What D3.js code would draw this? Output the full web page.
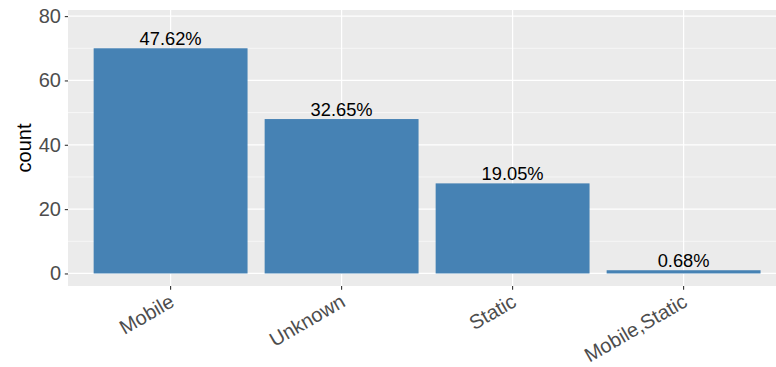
<!DOCTYPE html>
<html><head><meta charset="utf-8">
<script src="https://cdn.jsdelivr.net/npm/d3@7"></script>
<style>body{margin:0;background:#fff}svg{display:block}</style>
</head><body>
<script>
const categories = ["Mobile", "Unknown", "Static", "Mobile,Static"];
const counts = [70, 48, 28, 1];
const pctLabels = ["47.62%", "32.65%", "19.05%", "0.68%"];
const yTicks = [0, 20, 40, 60, 80];
const yMinor = [10, 30, 50, 70];

const W = 776, H = 367;
const panel = {left: 68, top: 10, right: 786.2, bottom: 286};
const svg = d3.select("body").append("svg").attr("width", W).attr("height", H);
const font = "'Liberation Sans', Arial, sans-serif";

const x = d3.scaleBand().domain(categories).range([panel.left, panel.right])
  .paddingInner(0.1).paddingOuter(0.15);
const y = d3.scaleLinear().domain([-3.9, 81.9]).range([panel.bottom, panel.top]);

svg.append("rect").attr("x", panel.left).attr("y", panel.top)
  .attr("width", panel.right - panel.left).attr("height", panel.bottom - panel.top)
  .attr("fill", "#EBEBEB");

const g = svg.append("g");
g.selectAll(".minor").data(yMinor).join("line")
  .attr("x1", panel.left).attr("x2", panel.right)
  .attr("y1", d => y(d)).attr("y2", d => y(d))
  .attr("stroke", "#fff").attr("stroke-width", 0.6);
g.selectAll(".major").data(yTicks).join("line")
  .attr("x1", panel.left).attr("x2", panel.right)
  .attr("y1", d => y(d)).attr("y2", d => y(d))
  .attr("stroke", "#fff").attr("stroke-width", 1.2);
g.selectAll(".vmajor").data(categories).join("line")
  .attr("y1", panel.top).attr("y2", panel.bottom)
  .attr("x1", d => x(d) + x.bandwidth()/2).attr("x2", d => x(d) + x.bandwidth()/2)
  .attr("stroke", "#fff").attr("stroke-width", 1.2);

svg.selectAll(".bar").data(categories).join("rect")
  .attr("x", d => x(d)).attr("width", x.bandwidth())
  .attr("y", (d, i) => y(counts[i])).attr("height", (d, i) => y(0) - y(counts[i]))
  .attr("fill", "#4682B4");

svg.selectAll(".lbl").data(categories).join("text")
  .attr("x", d => x(d) + x.bandwidth()/2)
  .attr("y", (d, i) => y(counts[i]) - 3.5)
  .attr("text-anchor", "middle")
  .attr("font-family", font).attr("font-size", 18.3).attr("fill", "#000")
  .text((d, i) => pctLabels[i]);

// y axis
const yAxis = d3.axisLeft(y).tickValues(yTicks).tickSize(3.2).tickPadding(3.8);
const ya = svg.append("g").attr("transform", `translate(${panel.left},0)`).call(yAxis);
ya.select(".domain").remove();
ya.selectAll(".tick line").attr("stroke", "#333").attr("stroke-width", 1.1);
ya.selectAll(".tick text").attr("font-family", font).attr("font-size", 20).attr("fill", "#4D4D4D");

// x axis
const xAxis = d3.axisBottom(x).tickSize(3.7).tickPadding(2);
const xa = svg.append("g").attr("transform", `translate(0,${panel.bottom})`).call(xAxis);
xa.select(".domain").remove();
xa.selectAll(".tick line").attr("stroke", "#333").attr("stroke-width", 1.1);
xa.selectAll(".tick text")
  .attr("font-family", font).attr("font-size", 20).attr("fill", "#4D4D4D")
  .attr("text-anchor", "end")
  .attr("x", 0).attr("y", 0).attr("dy", null)
  .attr("transform", "translate(5,19.5) rotate(-30)");

svg.append("text")
  .attr("transform", `translate(31,${(panel.top + panel.bottom)/2}) rotate(-90)`)
  .attr("text-anchor", "middle")
  .attr("font-family", font).attr("font-size", 20).attr("fill", "#000")
  .text("count");
</script>
</body></html>
